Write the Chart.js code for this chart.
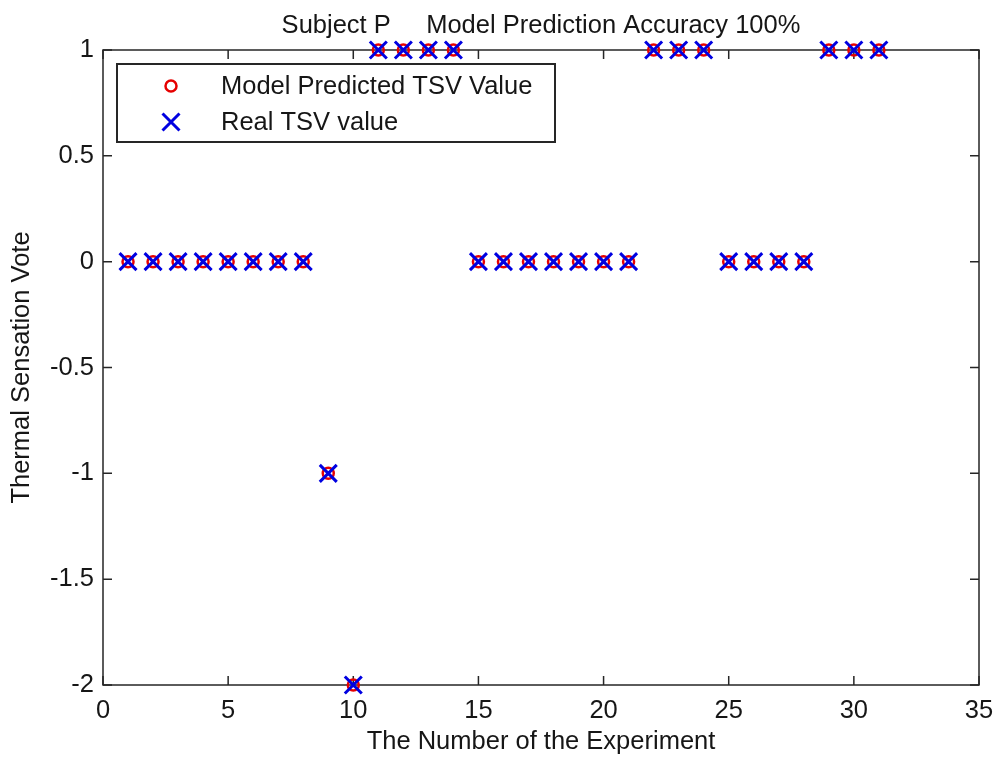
<!DOCTYPE html>
<html>
<head>
<meta charset="utf-8">
<title>Subject P - TSV prediction</title>
<script src="https://cdn.jsdelivr.net/npm/chart.js"></script>
<style>
  html, body { margin: 0; padding: 0; background: #fff; }
  canvas { display: block; }
</style>
</head>
<body>
<canvas id="tsvChart" width="998" height="761"></canvas>
<script>
// experiment numbers and votes
const experiments = [1, 2, 3, 4, 5, 6, 7, 8, 9, 10, 11, 12, 13, 14, 15, 16,
  17, 18, 19, 20, 21, 22, 23, 24, 25, 26, 27, 28, 29, 30, 31];
const predictedTSV = [0, 0, 0, 0, 0, 0, 0, 0, -1, -2, 1, 1, 1, 1, 0, 0,
  0, 0, 0, 0, 0, 1, 1, 1, 0, 0, 0, 0, 1, 1, 1];
const realTSV = [0, 0, 0, 0, 0, 0, 0, 0, -1, -2, 1, 1, 1, 1, 0, 0,
  0, 0, 0, 0, 0, 1, 1, 1, 0, 0, 0, 0, 1, 1, 1];
const xTicks = [0, 5, 10, 15, 20, 25, 30, 35];
const yTicks = [-2, -1.5, -1, -0.5, 0, 0.5, 1];

const chartTitle = "Subject P     Model Prediction Accuracy 100%";
const FONT = "'Liberation Sans', Arial, sans-serif";
const FONT_SIZE = 25.5;
const TEXT_COLOR = "#161616";
const AXIS_COLOR = "#262626";
const RED = "rgb(230, 0, 0)";
const BLUE = "rgb(0, 0, 225)";

function toPoints(values) {
  return experiments.map((x, i) => ({ x: x, y: values[i] }));
}

// matlab-like box with inward tick marks, legend and title
const boxPlugin = {
  id: "boxPlugin",
  beforeDatasetsDraw(chart) {
    const ctx = chart.ctx;
    const { left, right, top, bottom } = chart.chartArea;
    const xs = chart.scales.x;
    const ys = chart.scales.y;
    const tick = 9;
    ctx.save();
    ctx.strokeStyle = AXIS_COLOR;
    ctx.lineWidth = 1.5;
    ctx.strokeRect(left, top, right - left, bottom - top);
    ctx.beginPath();
    xTicks.forEach(v => {
      const px = xs.getPixelForValue(v);
      ctx.moveTo(px, bottom); ctx.lineTo(px, bottom - tick);
      ctx.moveTo(px, top); ctx.lineTo(px, top + tick);
    });
    yTicks.forEach(v => {
      const py = ys.getPixelForValue(v);
      ctx.moveTo(left, py); ctx.lineTo(left + tick, py);
      ctx.moveTo(right, py); ctx.lineTo(right - tick, py);
    });
    ctx.stroke();
    ctx.restore();
  },
  afterDraw(chart) {
    const ctx = chart.ctx;
    const { left, right } = chart.chartArea;
    ctx.save();

    // title
    ctx.fillStyle = TEXT_COLOR;
    ctx.font = FONT_SIZE + "px " + FONT;
    ctx.textAlign = "center";
    ctx.textBaseline = "alphabetic";
    ctx.fillText(chartTitle, (left + right) / 2, 33);

    // legend box
    const lx = 117, ly = 64, lw = 438, lh = 78;
    ctx.fillStyle = "#fff";
    ctx.fillRect(lx, ly, lw, lh);
    ctx.strokeStyle = AXIS_COLOR;
    ctx.lineWidth = 2;
    ctx.strokeRect(lx, ly, lw, lh);

    const sets = chart.data.datasets;
    ctx.textAlign = "left";
    ctx.textBaseline = "middle";

    // row 1: circle
    const r1 = 86, r2 = 122, mx = 171, tx = 221;
    ctx.strokeStyle = sets[0].borderColor;
    ctx.lineWidth = sets[0].borderWidth;
    ctx.beginPath();
    ctx.arc(mx, r1, sets[0].pointRadius, 0, Math.PI * 2);
    ctx.stroke();
    ctx.fillStyle = TEXT_COLOR;
    ctx.fillText(sets[0].label, tx, r1 + 1);

    // row 2: cross
    const h = sets[1].pointRadius * Math.SQRT1_2;
    ctx.strokeStyle = sets[1].borderColor;
    ctx.lineWidth = sets[1].borderWidth;
    ctx.beginPath();
    ctx.moveTo(mx - h, r2 - h); ctx.lineTo(mx + h, r2 + h);
    ctx.moveTo(mx - h, r2 + h); ctx.lineTo(mx + h, r2 - h);
    ctx.stroke();
    ctx.fillStyle = TEXT_COLOR;
    ctx.fillText(sets[1].label, tx, r2 + 1);

    ctx.restore();
  }
};

const ctx = document.getElementById("tsvChart").getContext("2d");
const tsvChart = new Chart(ctx, {
  type: "scatter",
  data: {
    datasets: [
      {
        label: "Model Predicted TSV Value",
        data: toPoints(predictedTSV),
        pointStyle: "circle",
        pointRadius: 5.5,
        borderColor: RED,
        backgroundColor: "rgba(0,0,0,0)",
        borderWidth: 2.5,
        clip: false,
        order: 1
      },
      {
        label: "Real TSV value",
        data: toPoints(realTSV),
        pointStyle: "crossRot",
        pointRadius: 12,
        borderColor: BLUE,
        backgroundColor: BLUE,
        borderWidth: 3,
        clip: false,
        order: 0
      }
    ]
  },
  options: {
    responsive: false,
    animation: false,
    events: [],
    layout: { padding: { top: 50, right: 19, left: 0, bottom: 0 } },
    plugins: {
      legend: { display: false },
      tooltip: { enabled: false }
    },
    scales: {
      x: {
        type: "linear",
        min: 0,
        max: 35,
        afterBuildTicks: (scale) => { scale.ticks = xTicks.map(v => ({ value: v })); },
        afterFit: (scale) => {
          scale.height = 76;
          scale.paddingLeft = 0;
          scale.paddingRight = 0;
        },
        grid: { display: false, drawTicks: false },
        border: { display: false },
        ticks: {
          padding: 11,
          color: TEXT_COLOR,
          font: { family: FONT, size: FONT_SIZE },
          maxRotation: 0,
          callback: (v) => String(v)
        },
        title: {
          display: true,
          text: "The Number of the Experiment",
          color: TEXT_COLOR,
          font: { family: FONT, size: FONT_SIZE },
          padding: { top: 0, bottom: 4 }
        }
      },
      y: {
        type: "linear",
        min: -2,
        max: 1,
        afterBuildTicks: (scale) => { scale.ticks = yTicks.map(v => ({ value: v })); },
        afterFit: (scale) => {
          scale.width = 103;
          scale.paddingTop = 0;
          scale.paddingBottom = 0;
        },
        grid: { display: false, drawTicks: false },
        border: { display: false },
        ticks: {
          padding: 9,
          color: TEXT_COLOR,
          font: { family: FONT, size: FONT_SIZE },
          callback: (v) => String(v)
        },
        title: {
          display: true,
          text: "Thermal Sensation Vote",
          color: TEXT_COLOR,
          font: { family: FONT, size: FONT_SIZE },
          padding: { top: 7, bottom: 0 }
        }
      }
    }
  },
  plugins: [boxPlugin]
});
</script>
</body>
</html>
